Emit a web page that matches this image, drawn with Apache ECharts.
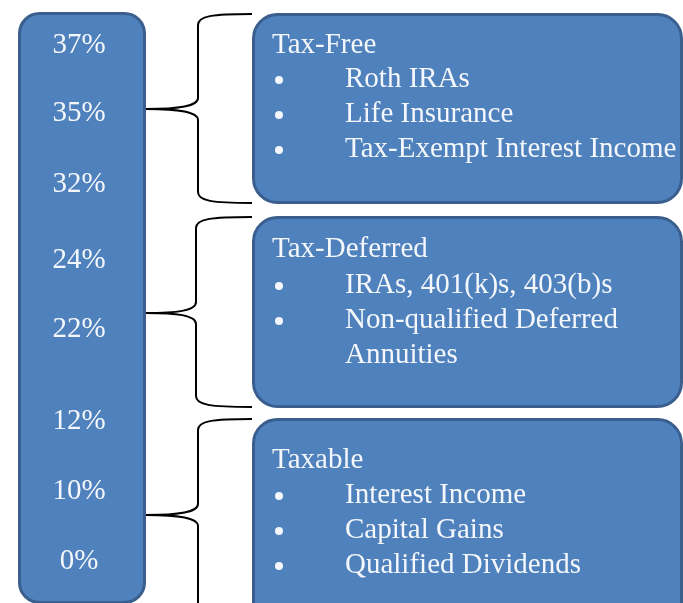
<!DOCTYPE html>
<html>
<head>
<meta charset="utf-8">
<script src="https://cdn.jsdelivr.net/npm/echarts@6/dist/echarts.min.js"></script>
<style>
  html, body { margin: 0; padding: 0; background: #fff; }
  #main { width: 683px; height: 603px; }
</style>
</head>
<body>
<div id="main"></div>
<script>
// tax brackets, top to bottom
const rates = ['37%', '35%', '32%', '24%', '22%', '12%', '10%', '0%']
const rateY = [45, 113, 184, 260, 329, 421, 491, 561]

// account groups
const groupTitles = ['Tax-Free', 'Tax-Deferred', 'Taxable']
const groupItems = [
    ['Roth IRAs', 'Life Insurance', 'Tax-Exempt Interest Income'],
    ['IRAs, 401(k)s, 403(b)s', 'Non-qualified Deferred\nAnnuities'],
    ['Interest Income', 'Capital Gains', 'Qualified Dividends'],
]

// layout of each group box / brace
const boxes = [
    {top: 13, bottom: 204, tip: 109, braceX: 198, titleY: 45, itemY: [79, 114, 149]},
    {top: 216, bottom: 408, tip: 313, braceX: 196, titleY: 249, itemY: [285, 320]},
    {top: 418, bottom: 640, tip: 515, braceX: 198, titleY: 460, itemY: [495, 530, 565]},
]

const FILL = '#4f81bd'
const EDGE = '#3a5f8e'
const FONT = '29px "Liberation Serif", "Times New Roman", serif'
const TEXT = '#f4f7fb'

const chart = echarts.init(document.getElementById('main'), null, {renderer: 'canvas'})

const elements = []

// left column with rates
elements.push({
    type: 'rect',
    shape: {x: 19.5, y: 13.5, width: 125, height: 589, r: 20},
    style: {fill: FILL, stroke: EDGE, lineWidth: 3},
})
rates.forEach((r, i) => {
    elements.push({
        type: 'text',
        style: {x: 79, y: rateY[i], text: r, font: FONT, fill: TEXT, align: 'center', verticalAlign: 'middle'},
    })
})

const braceStyle = {fill: null, stroke: '#000', lineWidth: 2}
const curve = (x1, y1, cpx1, cpy1, cpx2, cpy2, x2, y2) => ({
    type: 'bezierCurve',
    shape: {x1, y1, cpx1, cpy1, cpx2, cpy2, x2, y2},
    style: braceStyle,
})
const line = (x1, y1, x2, y2) => ({
    type: 'line',
    shape: {x1, y1, x2, y2},
    style: braceStyle,
})

const brace = (b) => {
    const x0 = 146
    const xv = b.braceX
    const x1 = 252
    return [
        curve(x1, b.top + 1, xv + 14, b.top + 1, xv, b.top + 3, xv, b.top + 12),
        line(xv, b.top + 12, xv, b.tip - 11),
        curve(xv, b.tip - 11, xv, b.tip - 2, x0 + 30, b.tip, x0, b.tip),
        curve(x0, b.tip, x0 + 30, b.tip, xv, b.tip + 2, xv, b.tip + 11),
        line(xv, b.tip + 11, xv, b.bottom - 12),
        curve(xv, b.bottom - 12, xv, b.bottom - 3, xv + 14, b.bottom - 1, x1, b.bottom - 1),
    ]
}

boxes.forEach((b, g) => {
    elements.push(...brace(b))
    elements.push({
        type: 'rect',
        shape: {x: 253.5, y: b.top + 1.5, width: 428, height: b.bottom - b.top - 3, r: 24},
        style: {fill: FILL, stroke: EDGE, lineWidth: 3},
    })
    elements.push({
        type: 'text',
        style: {x: 272, y: b.titleY, text: groupTitles[g], font: FONT, fill: TEXT, align: 'left', verticalAlign: 'middle'},
    })
    groupItems[g].forEach((item, k) => {
        elements.push({
            type: 'circle',
            shape: {cx: 279, cy: b.itemY[k] + 1, r: 4},
            style: {fill: TEXT},
        })
        // items are top-anchored so wrapped lines flow downwards
        elements.push({
            type: 'text',
            style: {x: 345, y: b.itemY[k] - 17.5, text: item, font: FONT, fill: TEXT, align: 'left', verticalAlign: 'top', lineHeight: 35},
        })
    })
})

chart.setOption({
    backgroundColor: '#fff',
    animation: false,
    graphic: {elements},
})
</script>
</body>
</html>
